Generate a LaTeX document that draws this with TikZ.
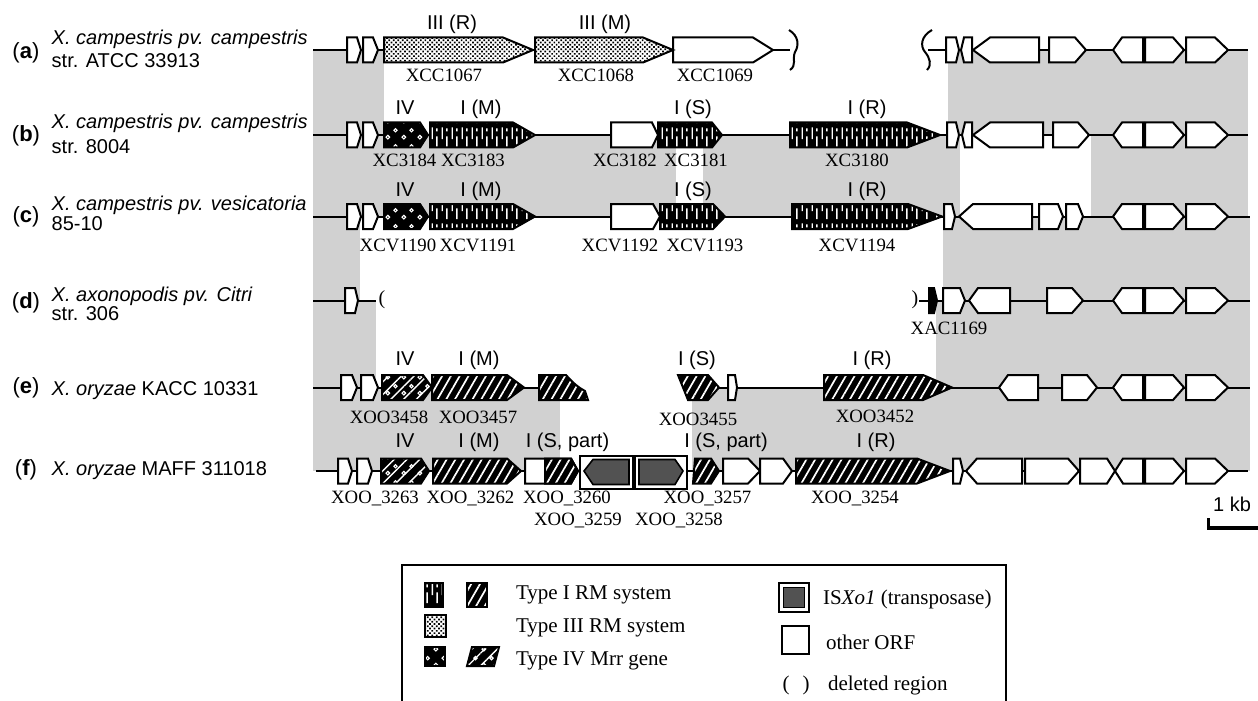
\documentclass[tikz,border=0pt]{standalone}
\usepackage{fontspec}
\setmainfont{Liberation Serif}
\setsansfont{Liberation Sans}
\usetikzlibrary{patterns,patterns.meta}

\tikzdeclarepattern{
  name=vdash,
  type=uncolored,
  bounding box={(0pt,0pt) and (5pt,12pt)},
  tile size={(5pt,12pt)},
  code={
    \draw[line width=0.75pt] (1.25pt,5pt) -- (1.25pt,11pt);
    \draw[line width=0.75pt] (3.75pt,1pt) -- (3.75pt,6.5pt);
    \draw[line width=0.75pt] (3.75pt,9pt) -- (3.75pt,10.5pt);
  }
}
\tikzdeclarepattern{
  name=ringdots,
  type=uncolored,
  bounding box={(0pt,0pt) and (8pt,8pt)},
  tile size={(8pt,8pt)},
  code={
    \draw[line width=0.6pt] (2pt,2pt) circle (0.95pt);
    \draw[line width=0.6pt] (6pt,5.6pt) circle (0.85pt);
  }
}

\tikzset{
  shade/.style={fill=black!18},
  orf/.style={draw, fill=white},
  rmone/.style={draw, preaction={fill=black}, preaction={pattern=vdash, pattern color=white}},
  rmonex/.style={draw, preaction={fill=black}, preaction={pattern={Lines[angle=60,distance=3.8pt,line width=0.85pt]}, pattern color=white}},
  rmthree/.style={draw, preaction={fill=white}, preaction={pattern={Dots[radius=0.6pt,distance=1.6pt,angle=45]}, pattern color=black}},
  mrr/.style={draw, preaction={fill=black}, preaction={pattern=ringdots, pattern color=white}},
  mrrx/.style={draw, preaction={fill=black}, preaction={pattern={Lines[angle=45,distance=4.5pt,line width=0.7pt]}, pattern color=white}, preaction={pattern=ringdots, pattern color=white}},
  tpase/.style={draw, line width=0.8pt, fill=black!68},
  typelbl/.style={font=\sffamily\fontsize{10}{12}\selectfont},
  genelbl/.style={font=\fontsize{9.4}{11}\selectfont, anchor=base},
  leglbl/.style={font=\fontsize{10.5}{12}\selectfont, anchor=west, inner sep=0pt},
}

% gene arrows: style, start, shoulder, end, row
\newcommand\gfwd[5]{\path[#1] (#2,#5-12.5) -- (#3,#5-12.5) -- (#4,#5) -- (#3,#5+12.5) -- (#2,#5+12.5) -- cycle;}
\newcommand\grev[5]{\path[#1] (#2,#5) -- (#3,#5-12.5) -- (#4,#5-12.5) -- (#4,#5+12.5) -- (#3,#5+12.5) -- cycle;}

\begin{document}
\begin{tikzpicture}[x=0.5pt, y=-0.5pt, line width=1pt]
  \useasboundingbox (0,0) rectangle (1258,701);

  % conserved regions
  \foreach \xa/\xb/\ya/\yb in {313/384/50/135, 948/1248/50/135, 313/676/135/216.5, 703/960/135/216.5, 1091/1248/135/216.5, 313/360/216.5/300.5, 943/1250/216.5/300.5, 313/376/300.5/387.5, 936/1250/300.5/387.5, 313/560/387.5/471, 692/1250/387.5/471}
    \fill[shade] (\xa,\ya) rectangle (\xb,\yb);

  % chromosomes
  \draw (313,50) -- (790,50) (928,50) -- (1248,50);
  \draw (313,135) -- (1248,135);
  \draw (313,216.5) -- (1250,216.5);
  \draw (313,300.5) -- (376,300.5) (919,300.5) -- (1250,300.5);
  \draw (313,387.5) -- (539,387.5) (719,387.5) -- (1250,387.5);
  \draw (316,471) -- (1248,471);
  \draw (789,30) .. controls (799,36) and (799,46) .. (795,52) .. controls (792,59) and (797,65) .. (790,70);
  \draw (932,30) .. controls (921,36) and (920,46) .. (925,52) .. controls (930,58) and (932,65) .. (927,70);

  % (a)
  \foreach \a/\b/\c in {347/357/361, 363/373/378, 673/753/773, 946/956/959, 1049/1075/1086, 1145/1173/1184, 1186/1215/1228}
    {\gfwd{orf}{\a}{\b}{\c}{50}}
  \foreach \a/\b/\c in {961/964/972, 973/990/1039, 1113/1122/1143}
    {\grev{orf}{\a}{\b}{\c}{50}}
  \gfwd{rmthree}{384}{503}{533}{50}
  \gfwd{rmthree}{535}{643}{673}{50}

  % (b)
  \foreach \a/\b/\c in {347/357/361, 363/373/378, 611/652/658, 947/956/959, 1053/1078/1089, 1145/1173/1184, 1186/1215/1228}
    {\gfwd{orf}{\a}{\b}{\c}{135}}
  \foreach \a/\b/\c in {962/965/972, 973/990/1043, 1113/1122/1143}
    {\grev{orf}{\a}{\b}{\c}{135}}
  \gfwd{mrr}{384}{420}{428}{135}
  \foreach \a/\b/\c in {430/513/535, 658/712/722, 790/907/940}
    {\gfwd{rmone}{\a}{\b}{\c}{135}}

  % (c)
  \foreach \a/\b/\c in {347/357/361, 363/373/378, 611/653/660, 944/952/955, 1039/1058/1063, 1066/1078/1083, 1145/1173/1184, 1186/1215/1228}
    {\gfwd{orf}{\a}{\b}{\c}{216.5}}
  \foreach \a/\b/\c in {959/973/1032, 1113/1122/1143}
    {\grev{orf}{\a}{\b}{\c}{216.5}}
  \gfwd{mrr}{384}{420}{428}{216.5}
  \foreach \a/\b/\c in {430/513/535, 660/713/725, 792/908/942}
    {\gfwd{rmone}{\a}{\b}{\c}{216.5}}

  % (d)
  \foreach \a/\b/\c in {345/355/358, 943/960/965, 1047/1072/1083, 1145/1173/1184, 1186/1215/1228}
    {\gfwd{orf}{\a}{\b}{\c}{300.5}}
  \foreach \a/\b/\c in {969/978/1010, 1113/1122/1143}
    {\grev{orf}{\a}{\b}{\c}{300.5}}
  \gfwd{draw, fill=black}{929}{934}{937}{300.5}
  \node[font=\fontsize{10}{12}\selectfont] (delL) at (382,300) {(};
  \node[font=\fontsize{10}{12}\selectfont] (delR) at (915,300) {)};

  % (e)
  \foreach \a/\b/\c in {341/352/357, 361/373/378, 728/735/737, 1062/1087/1097, 1145/1173/1184, 1186/1215/1228}
    {\gfwd{orf}{\a}{\b}{\c}{387.5}}
  \foreach \a/\b/\c in {999/1008/1038, 1113/1122/1143}
    {\grev{orf}{\a}{\b}{\c}{387.5}}
  \gfwd{mrrx}{382}{423}{432}{387.5}
  \gfwd{rmonex}{432}{507}{524}{387.5}
  \gfwd{rmonex}{824}{923}{952}{387.5}
  \path[rmonex] (539,375) -- (566,375) .. controls (573,383) and (579,388) .. (585,391) -- (588,400) -- (539,400) -- cycle;
  \path[rmonex] (678,375) -- (708,375) -- (719,387.5) -- (708,400) -- (688,400) -- cycle;

  % (f)
  \foreach \a/\b/\c in {338/348/352, 357/368/372, 525/571/578, 723/748/760, 760/783/792, 953/960/963, 1025/1068/1079, 1080/1107/1115, 1145/1173/1184, 1186/1215/1228}
    {\gfwd{orf}{\a}{\b}{\c}{471}}
  \foreach \a/\b/\c in {966/977/1022, 1115/1123/1143}
    {\grev{orf}{\a}{\b}{\c}{471}}
  \gfwd{mrrx}{381}{421}{429}{471}
  \foreach \a/\b/\c in {433/507/521, 545/571/578, 796/917/950}
    {\gfwd{rmonex}{\a}{\b}{\c}{471}}
  \path[rmonex] (695,458.5) -- (711,458.5) -- (719,471) -- (711,483.5) -- (693,483.5) -- cycle;
  \draw[fill=white] (580,455.5) rectangle (633,488.5);
  \path[tpase] (584,471) -- (593,459.5) -- (629,459.5) -- (629,484.5) -- (593,484.5) -- cycle;
  \draw[fill=white] (635,455.5) rectangle (687,488.5);
  \path[tpase] (639,459.5) -- (675,459.5) -- (683,471) -- (675,484.5) -- (639,484.5) -- cycle;

  % strain names
  \foreach \t/\y in {a/53, b/135.8, c/216.7, d/302.5, e/387.5, f/470}
    \node[font=\sffamily\fontsize{11}{13}\selectfont] (tag\t) at (26,\y) {(\textbf{\t})};
  \foreach \y/\t [count=\i] in {45/{\textit{X. campestris pv. campestris}}, 68/str. ATCC 33913, 128.3/{\textit{X. campestris pv. campestris}}, 153.3/str. 8004, 210.7/{\textit{X. campestris pv. vesicatoria}}, 230/85-10, 301.7/{\textit{X. axonopodis pv. Citri}}, 320/str. 306, 395/{\textit{X. oryzae} KACC 10331}, 475/{\textit{X. oryzae} MAFF 311018}}
    \node[typelbl, anchor=base west, inner sep=0pt] (strain\i) at (50.7,\y) {\t};

  % RM types
  \foreach \x/\y/\t [count=\i] in {452/29.5/III (R), 605/29.5/III (M), 405/115/IV, 481/115/I (M), 693/115/I (S), 867/115/I (R), 405/196/IV, 481/196/I (M), 693/196/I (S), 867/196/I (R), 405/365/IV, 479/365/I (M), 697/365/I (S), 872/365/I (R), 405/447/IV, 479/447/I (M), 567.5/447/{I (S, part)}, 726/447/{I (S, part)}, 876/447/I (R)}
    \node[typelbl, anchor=base] (type\i) at (\x,\y) {\t};

  % locus tags
  \foreach \x/\y/\t [count=\i] in {444/81.7/XCC1067, 596/81.7/XCC1068, 715/81.7/XCC1069, 404.5/166.7/XC3184, 473/166.7/XC3183, 625/166.7/XC3182, 696/166.7/XC3181, 857/166.7/XC3180, 398/251/XCV1190, 478/251/XCV1191, 620/251/XCV1192, 705/251/XCV1193, 857/251/XCV1194, 949/334/XAC1169, 389/423.3/XOO3458, 478/423.3/XOO3457, 698/425/XOO3455, 875/422.7/XOO3452, 375/503.3/XOO\_3263, 470.5/503.3/XOO\_3262, 567/503.3/XOO\_3260, 707.5/503.3/XOO\_3257, 855/503.3/XOO\_3254, 578/525/XOO\_3259, 679/525/XOO\_3258}
    \node[genelbl] (locus\i) at (\x,\y) {\t};

  % scale
  \node[typelbl, anchor=base] (kb) at (1232,511.5) {1 kb};
  \draw[line width=1.6pt] (1208.5,518) -- (1208.5,528) -- (1258,528);

  % legend
  \draw (402,703) -- (402,565) -- (1006,565) -- (1006,703);
  \path[rmone] (425,583) rectangle (443,607);
  \path[rmonex] (467,583) rectangle (487,607);
  \path[rmthree] (425,615) rectangle (446,637);
  \path[mrr] (425,647) rectangle (445,666);
  \path[mrrx] (472,647) -- (499,647) -- (494,666) -- (467,666) -- cycle;
  \draw[fill=white] (779,583) rectangle (809,612);
  \path[tpase] (783.5,587.5) rectangle (804.5,607.5);
  \draw[fill=white] (782,626) rectangle (809,654);
  \node[leglbl] (legI) at (515,595) {Type I RM system};
  \node[leglbl] (legIII) at (515,628) {Type III RM system};
  \node[leglbl] (legIV) at (515,661) {Type IV Mrr gene};
  \node[leglbl] (legIS) at (822,599) {IS\textit{Xo1} (transposase)};
  \node[leglbl] (legORF) at (825,642) {other ORF};
  \node[font=\fontsize{10.5}{12}\selectfont] (legL) at (786,685) {(};
  \node[font=\fontsize{10.5}{12}\selectfont] (legR) at (806,685) {)};
  \node[leglbl] (legDel) at (827,685) {deleted region};
\end{tikzpicture}
\end{document}
